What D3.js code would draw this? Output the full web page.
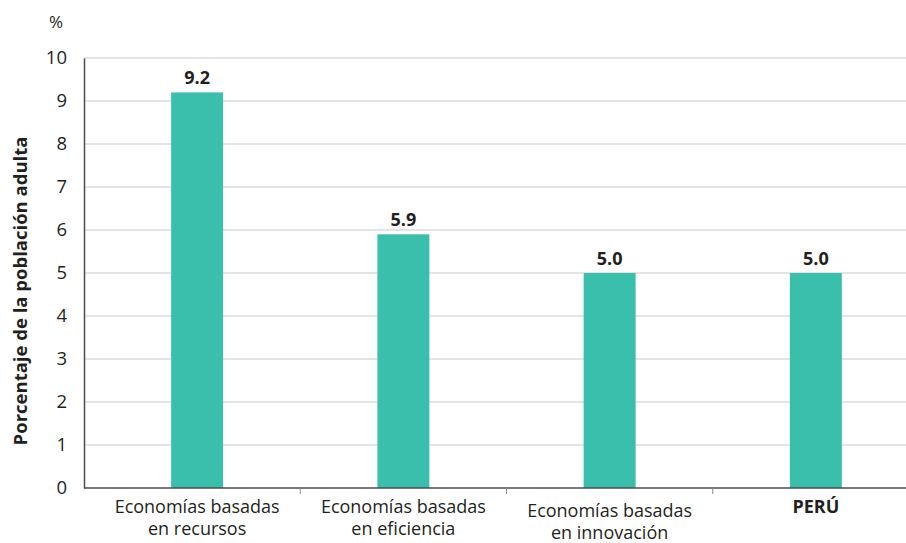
<!DOCTYPE html>
<html>
<head>
<meta charset="utf-8">
<script src="https://cdn.jsdelivr.net/npm/d3@7"></script>
<style>
  body { margin: 0; background: #fff; }
  text { font-family: "Open Sans", "Noto Sans", sans-serif; fill: #231f20; }
</style>
</head>
<body>
<svg id="drawing_region"></svg>
<script>
// data
const categories = [
  ["Economías basadas", "en recursos"],
  ["Economías basadas", "en eficiencia"],
  ["Economías basadas", "en innovación"],
  ["PERÚ"]
];
const values = [9.2, 5.9, 5.0, 5.0];
const valueLabels = ["9.2", "5.9", "5.0", "5.0"];
const yTicks = [0, 1, 2, 3, 4, 5, 6, 7, 8, 9, 10];
const yTitle = "Porcentaje de la población adulta";
const unitLabel = "%";

const width = 906, height = 543;
const svg = d3.select('#drawing_region')
  .attr('width', width)
  .attr('height', height);

const keys = categories.map((d, i) => i);

const xscale = d3.scaleBand()
  .domain(keys)
  .range([94, 919])
  .padding(0);

const yscale = d3.scaleLinear()
  .domain([0, 10])
  .range([488, 58]);

const barWidth = xscale.bandwidth() * 0.252;

// gridlines
svg.append('g')
  .selectAll('line')
  .data(yTicks.filter(d => d > 0))
  .enter()
  .append('line')
  .attr('x1', 84)
  .attr('x2', width)
  .attr('y1', d => yscale(d))
  .attr('y2', d => yscale(d))
  .attr('stroke', '#c9c9c9')
  .attr('stroke-width', 1.2);

// y axis
const yaxis = d3.axisLeft(yscale)
  .tickValues(yTicks)
  .tickSize(0)
  .tickPadding(17);

const yaxis_group = svg.append('g')
  .attr('transform', 'translate(84,0)')
  .call(yaxis);
yaxis_group.select('.domain')
  .attr('stroke', '#4d4d4d')
  .attr('stroke-width', 1.5);
yaxis_group.selectAll('text')
  .attr('font-size', 18.5)
  .attr('fill', '#231f20')
  .style('font-family', '"Open Sans", sans-serif');

// bars
svg.append('g')
  .selectAll('rect')
  .data(values)
  .enter()
  .append('rect')
  .attr('x', (d, i) => xscale(i) + xscale.bandwidth() / 2 - barWidth / 2)
  .attr('y', d => yscale(d))
  .attr('width', barWidth)
  .attr('height', d => yscale(0) - yscale(d))
  .attr('fill', '#3bbfad');

// value labels
svg.append('g')
  .selectAll('text')
  .data(values)
  .enter()
  .append('text')
  .attr('x', (d, i) => xscale(i) + xscale.bandwidth() / 2)
  .attr('y', d => yscale(d) - 8)
  .attr('text-anchor', 'middle')
  .attr('font-size', 18)
  .attr('font-weight', 'bold')
  .text((d, i) => valueLabels[i]);

// x axis line and ticks
svg.append('line')
  .attr('x1', 84)
  .attr('x2', width)
  .attr('y1', yscale(0))
  .attr('y2', yscale(0))
  .attr('stroke', '#4d4d4d')
  .attr('stroke-width', 1.5);

svg.append('g')
  .selectAll('line')
  .data(keys.slice(1))
  .enter()
  .append('line')
  .attr('x1', d => xscale(d))
  .attr('x2', d => xscale(d))
  .attr('y1', yscale(0))
  .attr('y2', yscale(0) + 6)
  .attr('stroke', '#888')
  .attr('stroke-width', 1);

// category labels
const catTop = [513, 513, 517, 513];
const cat = svg.append('g')
  .selectAll('text')
  .data(categories)
  .enter()
  .append('text')
  .attr('x', (d, i) => xscale(i) + xscale.bandwidth() / 2)
  .attr('y', (d, i) => catTop[i])
  .attr('text-anchor', 'middle')
  .attr('font-size', 18)
  .attr('font-weight', d => d.length === 1 ? 'bold' : 'normal');
cat.selectAll('tspan')
  .data(d => d)
  .enter()
  .append('tspan')
  .attr('x', function() { return d3.select(this.parentNode).attr('x'); })
  .attr('dy', (d, i) => i === 0 ? 0 : 22)
  .text(d => d);

// y title
svg.append('text')
  .attr('transform', 'translate(27,291) rotate(-90)')
  .attr('text-anchor', 'middle')
  .attr('font-size', 18.5)
  .attr('font-weight', 'bold')
  .text(yTitle);

// unit
svg.append('text')
  .attr('x', 56)
  .attr('y', 28)
  .attr('text-anchor', 'middle')
  .attr('font-size', 17)
  .text(unitLabel);
</script>
</body>
</html>
